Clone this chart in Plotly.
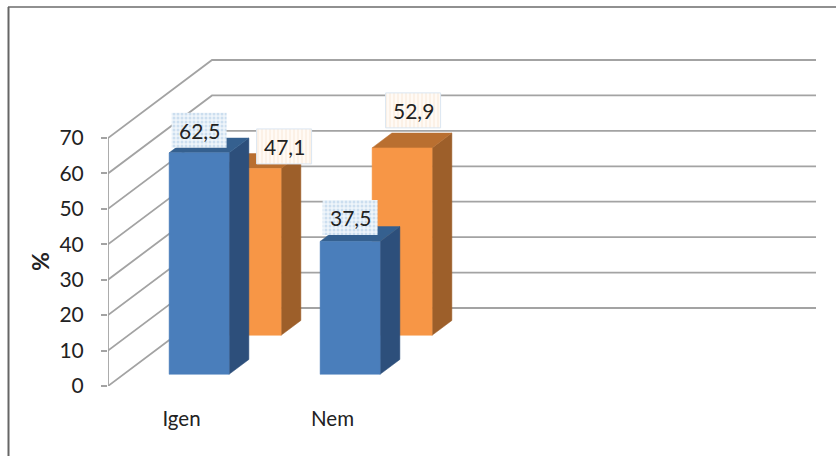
import plotly.graph_objects as go

categories = ["Igen", "Nem", "", ""]
series_blue = [62.5, 37.5]
series_orange = [47.1, 52.9]
blue_labels = ["62,5", "37,5"]
orange_labels = ["47,1", "52,9"]
y_ticks = [0, 10, 20, 30, 40, 50, 60, 70]

W, H = 836, 456
LEFT, BOTTOM = 108, 386
PLOT_RIGHT, PLOT_TOP = 836, 8
PX_X = 151.0
PX_Y = 248 / 70.0
WALL_DX, WALL_DY = 104, 78
HALF = 30 / PX_X
DEPTH = 0.19
FONT = "Lato"
TEXT = "#222222"
GRID = "#a3a3a3"


def proj(c, v, d):
    return c + d * WALL_DX / PX_X, v + d * WALL_DY / PX_Y


fig = go.Figure()


def line(points, color=GRID, width=1.8):
    xs, ys = zip(*points)
    fig.add_trace(go.Scatter(x=xs, y=ys, mode="lines", line=dict(color=color, width=width),
                             hoverinfo="skip", showlegend=False))


def poly(points, color):
    xs, ys = zip(*(list(points) + [points[0]]))
    fig.add_trace(go.Scatter(x=xs, y=ys, mode="lines", fill="toself", fillcolor=color,
                             line=dict(color=color, width=0.5),
                             hoverinfo="skip", showlegend=False))


# walls
line([(-0.5, 0), (-0.5, 70)])
for t in y_ticks:
    line([proj(-0.5, t, 0), proj(-0.5, t, 1), proj(3.5, t, 1)])


def bar3d(c, v, d0, front, side, top):
    a = c - HALF
    b = c + HALF
    poly([proj(b, 0, d0), proj(b, 0, d0 + DEPTH), proj(b, v, d0 + DEPTH), proj(b, v, d0)], side)
    poly([proj(a, v, d0), proj(b, v, d0), proj(b, v, d0 + DEPTH), proj(a, v, d0 + DEPTH)], top)
    poly([proj(a, 0, d0), proj(b, 0, d0), proj(b, v, d0), proj(a, v, d0)], front)


BLUE_D, ORANGE_D = 0.15, 0.65
for i, v in enumerate(series_orange):
    bar3d(i, v, ORANGE_D, "#f79646", "#9d5f2a", "#b96f30")
for i, v in enumerate(series_blue):
    bar3d(i, v, BLUE_D, "#4a7ebb", "#2d4f7b", "#35608f")


def label(c, v, d, text, dx, dy, pattern, edge):
    x0, y0 = proj(c, v, d)
    cx = x0 + dx / PX_X
    cy = y0 + dy / PX_Y
    hw, hh = 27.5 / PX_X, 17.5 / PX_Y
    xs = [cx - hw, cx + hw, cx + hw, cx - hw, cx - hw]
    ys = [cy - hh, cy - hh, cy + hh, cy + hh, cy - hh]
    fig.add_trace(go.Scatter(x=xs, y=ys, mode="lines", fill="toself", fillpattern=pattern,
                             line=dict(color=edge, width=1),
                             hoverinfo="skip", showlegend=False))
    fig.add_annotation(x=cx, y=cy, text=text, showarrow=False,
                       font=dict(family=FONT, size=21, color=TEXT))


BLUE_PAT = dict(shape=".", fgcolor="#a9c8e4", bgcolor="#eff5fa", size=4, solidity=0.45)
ORANGE_PAT = dict(shape="|", fgcolor="#f8e3cf", bgcolor="#fffaf5", size=4, solidity=0.4)
blue_offsets = [(0, 22.5), (0, 24)]
orange_offsets = [(33, 22), (11, 37.5)]
for i, v in enumerate(series_blue):
    label(i, v, BLUE_D, blue_labels[i], *blue_offsets[i], BLUE_PAT, "rgba(0,0,0,0)")
for i, v in enumerate(series_orange):
    label(i, v, ORANGE_D, orange_labels[i], *orange_offsets[i], ORANGE_PAT, "#dbe6f1")


def px(x):
    return (x - LEFT) / (PLOT_RIGHT - LEFT)


def py(y):
    return (BOTTOM - y) / (BOTTOM - PLOT_TOP)


fig.add_annotation(xref="paper", yref="paper", x=px(40), y=py(262), text="<b>%</b>", textangle=-90,
                   xanchor="center", yanchor="middle",
                   showarrow=False, font=dict(family=FONT, size=23, color=TEXT))

fig.update_layout(
    width=W, height=H, paper_bgcolor="white", plot_bgcolor="rgba(0,0,0,0)",
    margin=dict(l=LEFT, r=W - PLOT_RIGHT, t=PLOT_TOP, b=H - BOTTOM, pad=0),
    font=dict(family=FONT, color=TEXT),
    showlegend=False,
    xaxis=dict(range=[-0.5, -0.5 + (PLOT_RIGHT - LEFT) / PX_X], tickvals=[0, 1], ticktext=categories[:2],
               showgrid=False, zeroline=False, showline=False, ticks="", ticklabelstandoff=18,
               ticklabelshift=-2, tickfont=dict(family=FONT, size=20.5, color=TEXT)),
    yaxis=dict(range=[0, (BOTTOM - PLOT_TOP) / PX_Y], tickvals=y_ticks, showgrid=False, zeroline=False,
               showline=False, ticks="outside", ticklen=6, tickcolor=GRID, tickwidth=1.8,
               ticklabelstandoff=13, tickfont=dict(family=FONT, size=21, color=TEXT)),
    shapes=[
        dict(type="line", xref="paper", yref="paper", x0=px(8), x1=px(836), y0=py(7), y1=py(7),
             line=dict(color="#222222", width=1.2)),
        dict(type="line", xref="paper", yref="paper", x0=px(8.5), x1=px(8.5), y0=py(7), y1=py(456),
             line=dict(color="#666666", width=2)),
    ],
)

fig.write_html("out.html", config=dict(displayModeBar=False),
               post_script="document.body.style.margin='0';document.body.style.overflow='hidden';")
